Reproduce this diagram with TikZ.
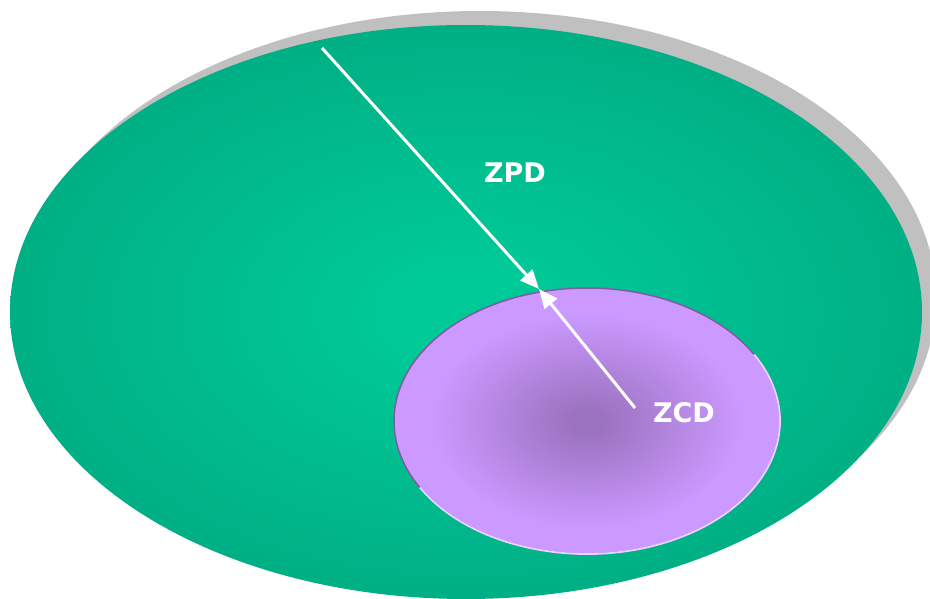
\documentclass[tikz,border=0pt]{standalone}
\usepackage{fontspec}
\setmainfont{DejaVu Sans}
\usetikzlibrary{arrows.meta, positioning}
\definecolor{zpdouter}{HTML}{00A47C}
\definecolor{zpdinner}{HTML}{00C998}
\definecolor{zcdlight}{HTML}{CB99FF}
\definecolor{zcddark}{HTML}{9B72BF}
\definecolor{rimdark}{HTML}{7F5CA0}
\definecolor{rimlight}{HTML}{E8D4FF}
\definecolor{shadowgray}{HTML}{C0C0C0}
\newcommand{\LabelF}{\fontsize{27}{30}\selectfont\bfseries}
\pgfdeclareradialshading{zpdglow}{\pgfpoint{0bp}{0bp}}{%
  color(0bp)=(zpdinner); color(4bp)=(zpdinner); color(34bp)=(zpdouter); color(72bp)=(zpdouter)}
\pgfdeclareradialshading{zcdglow}{\pgfpoint{0bp}{0bp}}{%
  color(0bp)=(zcddark); color(2bp)=(zcddark); color(20bp)=(zcdlight); color(72bp)=(zcdlight)}
\tikzset{
  link/.style={white, line width=3pt, -{Triangle[length=19pt, width=16pt]}},
  zonelabel/.style={font=\LabelF, text=white}
}

\begin{document}
\begin{tikzpicture}[x=1pt,y=-1pt]
\clip (0,0) rectangle (930,599);
% ZPD with its shadow
\fill[shadowgray] (480,298) ellipse[x radius=456, y radius=287];
\shade[shading=zpdglow] (466,312) ellipse[x radius=456, y radius=287];
% ZCD
\shade[shading=zcdglow, draw=rimdark, line width=1.5pt] (587,421) ellipse[x radius=193, y radius=133];
\draw[rimlight, line width=1.8pt] (754.1,354.5) arc[start angle=-30, end angle=150, x radius=193, y radius=133];
% labels and arrows
\node[zonelabel] (zpd) at (515,173) {ZPD};
\node[zonelabel] (zcd) at (684,413) {ZCD};
\coordinate (zpdtail) at (322,48);
\coordinate (zcdtail) at (635,408);
\coordinate (meet) at (539,289);
\draw[link] (zpdtail) -- (meet);
\draw[link] (zcdtail) -- (meet);
\end{tikzpicture}
\end{document}
